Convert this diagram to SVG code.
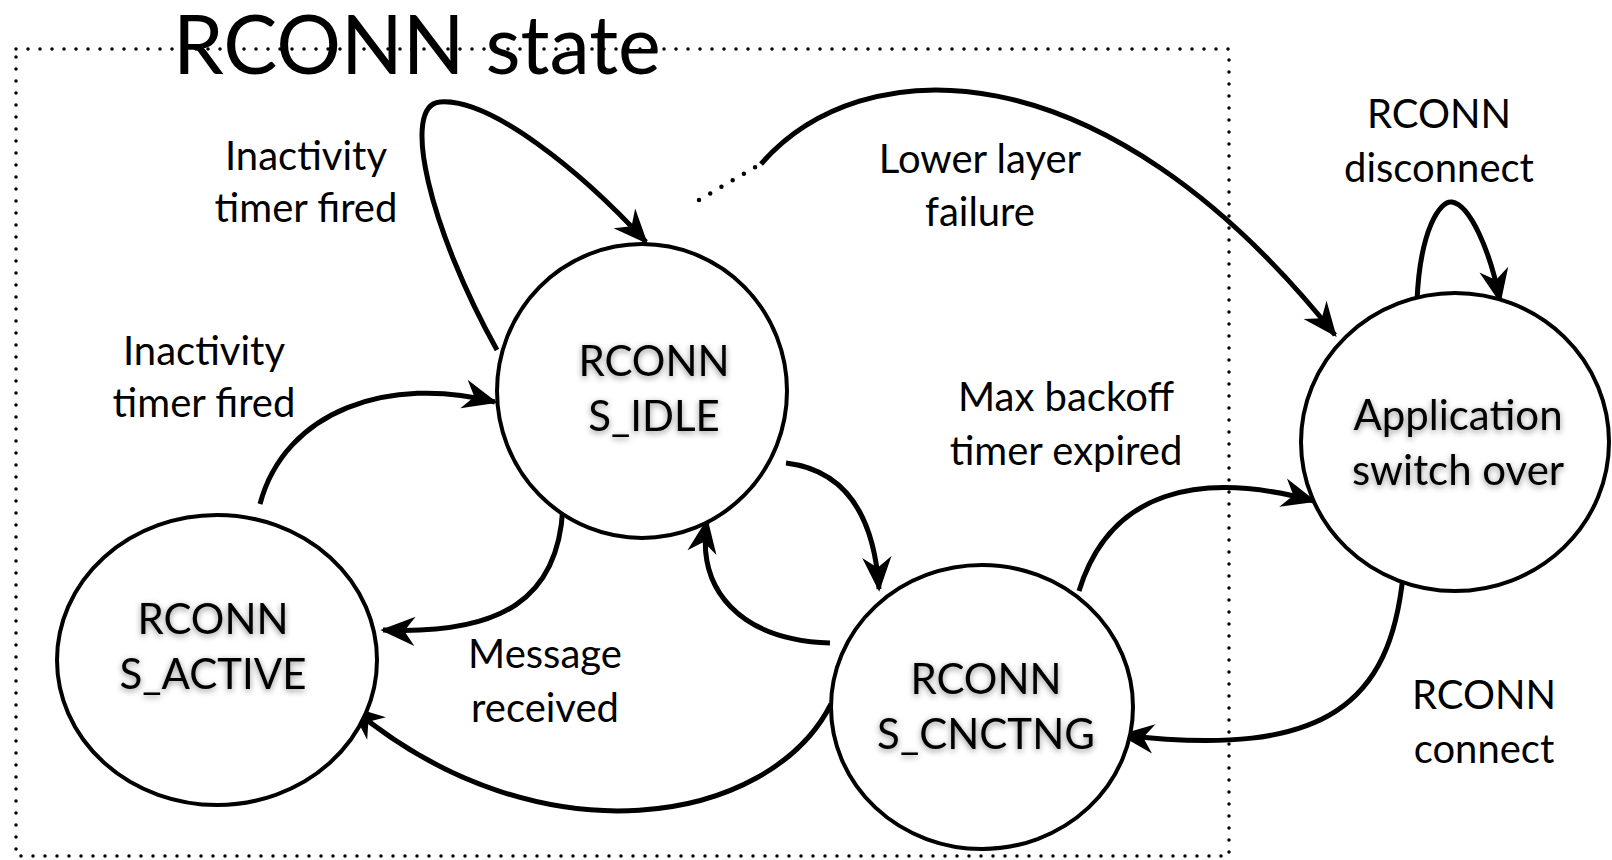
<svg xmlns="http://www.w3.org/2000/svg" width="1612" height="860" viewBox="0 0 1612 860">
<style>
.frame{fill:none;stroke:#000;stroke-width:3.5;stroke-dasharray:0 12;stroke-linecap:round}
.node{fill:#fff;stroke:#000;stroke-width:4}
.edge{fill:none;stroke:#000;stroke-width:5;marker-end:url(#arr)}
.dots{fill:none;stroke:#000;stroke-width:4.5;stroke-dasharray:0 13;stroke-linecap:round}
.lbl{font-family:Lato,"Open Sans",sans-serif;font-size:40px;fill:#000;text-anchor:middle}
.nlbl{font-family:Lato,"Open Sans",sans-serif;font-size:42px;fill:#000;text-anchor:middle;filter:url(#sh)}
.title{font-family:Lato,"Open Sans",sans-serif;font-size:81px;fill:#000}
</style>
<defs>
<marker id="arr" markerUnits="userSpaceOnUse" markerWidth="40" markerHeight="40" viewBox="-26 -13 30 26" refX="0" refY="0" orient="auto">
<path d="M2,0 L-24,-11 L-16,0 L-24,11 Z" fill="#000"/>
</marker>
<filter id="sh" x="-20%" y="-30%" width="140%" height="160%">
<feDropShadow dx="0" dy="2" stdDeviation="3" flood-color="#000" flood-opacity="0.45"/>
</filter>
</defs>
<rect class="frame" x="16" y="49" width="1213" height="807"/>
<text class="title" x="173" y="74">RCONN state</text>
<g id="connectors">
<path class="edge" d="M497,350 C430,230 400,105 440,102 C490,98 580,170 646,242"/>
<path class="edge" d="M260,504 C285,410 390,375 495,402"/>
<path class="edge" d="M563,504 C560,600 500,635 383,630"/>
<path class="edge" d="M831,704 C770,825 540,865 352,708"/>
<path class="edge" d="M830,643 C740,640 696,590 707,521"/>
<path class="edge" d="M786,463 C845,470 874,515 879,589"/>
<path class="edge" d="M1079,591 C1110,490 1200,470 1314,501"/>
<path class="edge" d="M1403,576 C1390,700 1330,760 1122,735"/>
<path class="dots" d="M699,200 L757,166"/>
<path class="edge" d="M761,164 C860,50 1100,40 1335,335"/>
<path class="edge" d="M1417,301 C1420,230 1440,200 1452,202 C1470,205 1490,250 1500,301"/>
</g>
<g id="n-idle">
<ellipse class="node" cx="642" cy="391" rx="145" ry="147"/>
<text class="nlbl" x="654" y="376">RCONN</text>
<text class="nlbl" x="654" y="431">S_IDLE</text>
</g>
<g id="n-active">
<ellipse class="node" cx="217" cy="660" rx="160" ry="145"/>
<text class="nlbl" x="213" y="634">RCONN</text>
<text class="nlbl" x="213" y="689">S_ACTIVE</text>
</g>
<g id="n-cnctng">
<ellipse class="node" cx="982" cy="707" rx="151" ry="142"/>
<text class="nlbl" x="986" y="694">RCONN</text>
<text class="nlbl" x="986" y="749">S_CNCTNG</text>
</g>
<g id="n-app">
<ellipse class="node" cx="1455" cy="442" rx="154" ry="149"/>
<text class="nlbl" x="1458" y="430">Application</text>
<text class="nlbl" x="1458" y="485">switch over</text>
</g>
<g id="labels">
<text class="lbl" x="306" y="170">Inactivity</text>
<text class="lbl" x="306" y="222">timer fired</text>
<text class="lbl" x="204" y="365">Inactivity</text>
<text class="lbl" x="204" y="417">timer fired</text>
<text class="lbl" x="980" y="173">Lower layer</text>
<text class="lbl" x="980" y="226">failure</text>
<text class="lbl" x="1439" y="128">RCONN</text>
<text class="lbl" x="1439" y="182">disconnect</text>
<text class="lbl" x="1066" y="411">Max backoff</text>
<text class="lbl" x="1066" y="465">timer expired</text>
<text class="lbl" x="545" y="668">Message</text>
<text class="lbl" x="545" y="722">received</text>
<text class="lbl" x="1484" y="709">RCONN</text>
<text class="lbl" x="1484" y="763">connect</text>
</g>
</svg>
